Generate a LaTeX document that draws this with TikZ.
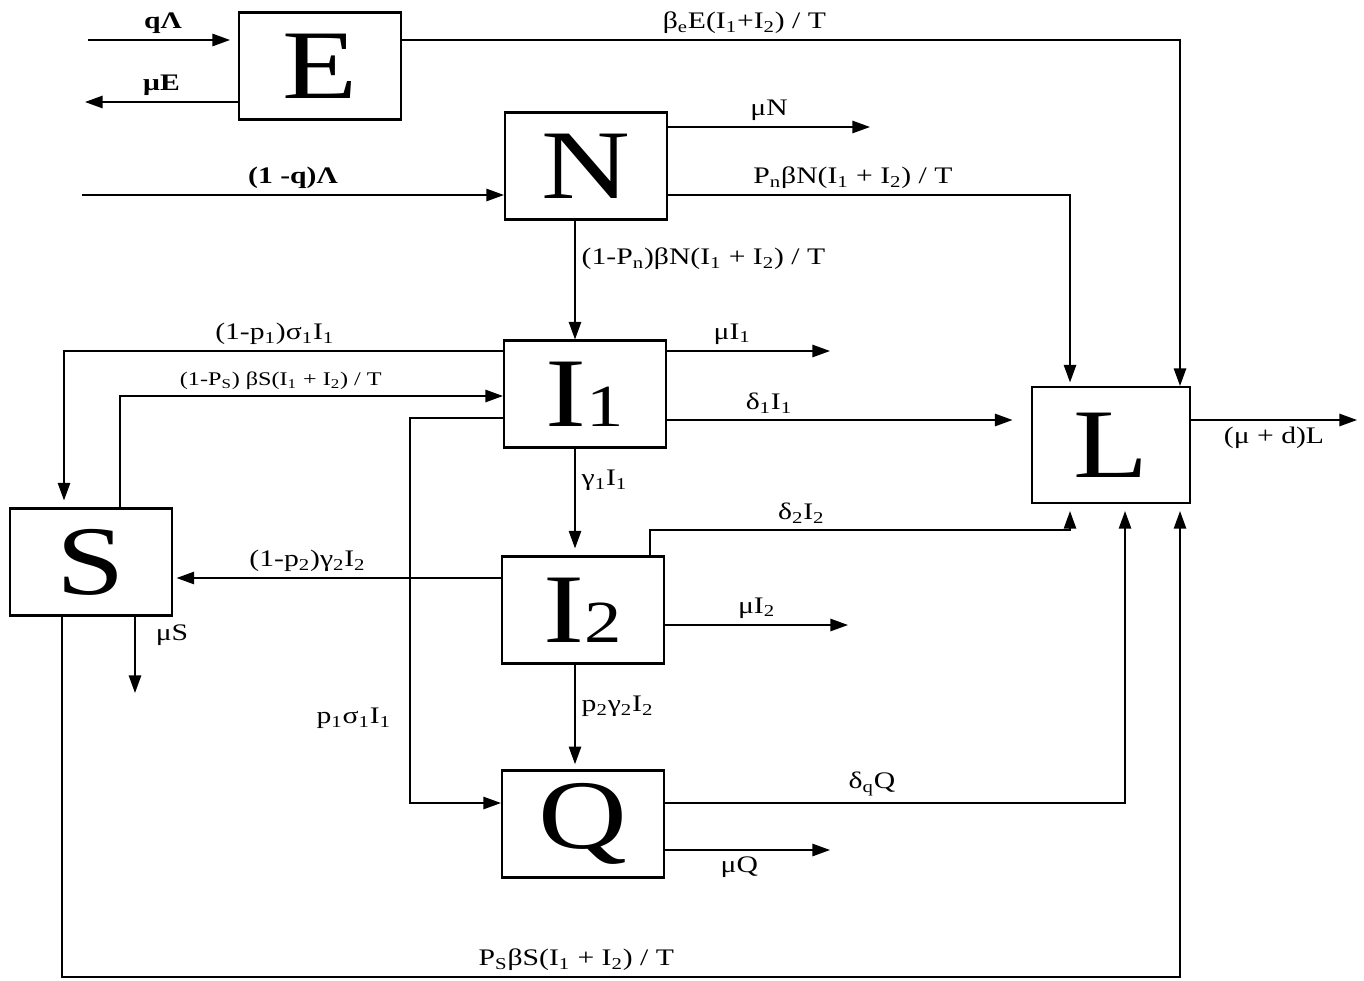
\documentclass[tikz,border=0pt]{standalone}
\usepackage{fontspec}
\setmainfont{Liberation Serif}
\newfontfamily\widefont[FakeStretch=1.25]{Liberation Serif}
\usetikzlibrary{arrows.meta}

\newcommand{\subs}[1]{\textsubscript{#1}}

\tikzset{
    comp/.style={draw, line width=1.2pt, inner sep=0pt,
        minimum width=3.24cm, minimum height=2.14cm,
        font=\widefont\fontsize{56}{60}\selectfont},
    rate/.style={font=\widefont\fontsize{13.5}{15}\selectfont},
    bold rate/.style={font=\widefont\bfseries\fontsize{13.5}{15}\selectfont},
    small rate/.style={font=\widefont\fontsize{11}{12}\selectfont},
    flow/.style={line width=1pt, -{Triangle[length=10pt, width=7pt]}},
}

\begin{document}
\begin{tikzpicture}[x=0.02cm, y=-0.02cm, rate]

    \useasboundingbox (0,0) rectangle (1364,980);

    % Compartments
    \node[comp] (E)  at (320,66)  {E};
    \node[comp] (N)  at (586,166) {N};
    \node[comp] (I1) at (585,394) {I{\fontsize{34}{36}\selectfont 1}};
    \node[comp] (I2) at (583,610) {I{\fontsize{34}{36}\selectfont 2}};
    \node[comp] (Q)  at (583,824) {Q};
    \node[comp, minimum width=3.16cm, minimum height=2.32cm] (L) at (1111,445) {L};
    \node[comp] (S)  at (91,562)  {S};

    % Free ends
    \coordinate (qin)  at (88,40);
    \coordinate (muE)  at (85,102);
    \coordinate (muN)  at (870,127);
    \coordinate (lin)  at (82,195);
    \coordinate (muI1) at (830,351);
    \coordinate (muI2) at (848,625);
    \coordinate (muQ)  at (830,850);
    \coordinate (muS)  at (135,693);
    \coordinate (outL) at (1357,420);

    % Columns and rows for the bends
    \coordinate (c0) at (575,0);
    \coordinate (c1) at (1070,0);
    \coordinate (c2) at (1125,0);
    \coordinate (c3) at (1180,0);
    \coordinate (k1) at (410,0);
    \coordinate (k2) at (650,0);
    \coordinate (k3) at (62,0);
    \coordinate (bot) at (0,977);

    % Recruitment into E and N
    \draw[flow, shorten >=4.5pt] (qin) -- (E.west |- qin)
        node[midway, above, bold rate] {qΛ};
    \draw[flow] (E.west |- muE) -- (muE)
        node[midway, above, bold rate] {μE};
    \draw[flow] (lin) -- (N.west |- lin)
        node[midway, above, bold rate] {(1 -q)Λ};

    % From E
    \draw[flow] (E.east |- qin) -| (L.north -| c3)
        node[pos=0.22, above] {β\subs{e}E(I\subs{1}+I\subs{2}) / T};

    % From N
    \draw[flow] (N.east |- muN) -- (muN)
        node[midway, above] {μN};
    \draw[flow, shorten >=2pt] (N.east |- lin) -| (L.north -| c1)
        node[pos=0.23, above] {P\subs{n}βN(I\subs{1} + I\subs{2}) / T};
    \draw[flow] (N.south -| c0) -- (I1.north -| c0)
        node[pos=0.32, right] {(1-P\subs{n})βN(I\subs{1} + I\subs{2}) / T};

    % From I1
    \draw[flow, shorten >=4pt] (I1.west |- 0,351) -| (S.north -| 64,0)
        node[pos=0.26, above] {(1-p\subs{1})σ\subs{1}I\subs{1}};
    \draw[flow] (I1.east |- muI1) -- (muI1)
        node[pos=0.4, above] {μI\subs{1}};
    \draw[flow, shorten >=10.5pt] (I1.east |- 0,420) -- (L.west |- 0,420)
        node[pos=0.28, above] {δ\subs{1}I\subs{1}};
    \draw[flow, shorten >=4pt] (I1.south -| c0) -- (I2.north -| c0)
        node[pos=0.3, right] {γ\subs{1}I\subs{1}};
    \draw[flow] (I1.west |- 0,418) -- (k1 |- 0,418)
        -- node[pos=0.78, left=7pt] {p\subs{1}σ\subs{1}I\subs{1}} (k1 |- 0,803)
        -- (Q.west |- 0,803);

    % Back to I1 from S
    \draw[flow] (S.north -| 120,0) |- (I1.west |- 0,396)
        node[pos=0.71, above, small rate]
        {(1-P\subs{S}) βS(I\subs{1} + I\subs{2}) / T};

    % From I2
    \draw[flow, shorten >=4pt] (I2.north -| k2) |- node[pos=0.68, above] {δ\subs{2}I\subs{2}}
        (c1 |- 0,530) -- (L.south -| c1);
    \draw[flow, shorten >=2pt] (I2.west |- 0,578) -- (S.east |- 0,578)
        node[pos=0.59, above] {(1-p\subs{2})γ\subs{2}I\subs{2}};
    \draw[flow] (I2.east |- muI2) -- (muI2)
        node[midway, above] {μI\subs{2}};
    \draw[flow, shorten >=3pt] (I2.south -| c0) -- (Q.north -| c0)
        node[pos=0.4, right] {p\subs{2}γ\subs{2}I\subs{2}};

    % From Q
    \draw[flow, shorten >=4pt] (Q.east |- 0,803) -| (L.south -| c2)
        node[pos=0.225, above] {δ\subs{q}Q};
    \draw[flow] (Q.east |- muQ) -- (muQ)
        node[pos=0.45, below] {μQ};

    % From S
    \draw[flow] (S.south -| muS) -- (muS)
        node[pos=0.25, right=8pt] {μS};
    \draw[flow, shorten >=4pt] (S.south -| k3) -- (k3 |- bot) -- (c3 |- bot)
        node[pos=0.46, above] {P\subs{S}βS(I\subs{1} + I\subs{2}) / T}
        -- (L.south -| c3);

    % From L
    \draw[flow] (L.east |- outL) -- (outL)
        node[midway, below] {(μ + d)L};

\end{tikzpicture}
\end{document}
